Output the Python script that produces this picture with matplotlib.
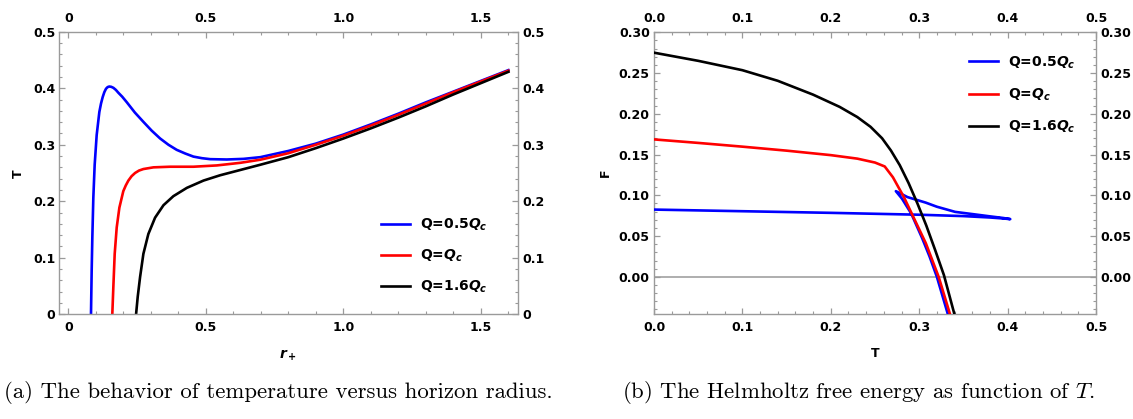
"""
Black hole thermodynamics: temperature vs horizon radius and Helmholtz free energy vs T.
"""

import matplotlib
matplotlib.use("Agg")
import matplotlib.pyplot as plt
from matplotlib.ticker import MultipleLocator

plt.rcParams["font.family"] = ["DejaVu Sans"]
plt.rcParams["font.weight"] = "bold"
plt.rcParams["mathtext.fontset"] = "custom"
plt.rcParams["mathtext.rm"] = "DejaVu Sans:bold"
plt.rcParams["mathtext.bf"] = "DejaVu Sans:bold"
plt.rcParams["mathtext.it"] = "DejaVu Sans:italic:bold"

# ---- panel (a): T vs r+ ----
r_blue = [0.0825, 0.085, 0.0874, 0.091, 0.0959, 0.1032, 0.1129, 0.119, 0.125, 0.131,
          0.137, 0.143, 0.149, 0.156, 0.164, 0.173, 0.182, 0.196, 0.212, 0.242,
          0.273, 0.303, 0.334, 0.364, 0.394, 0.425, 0.455, 0.486, 0.516, 0.576,
          0.637, 0.698, 0.8, 0.9, 1.0, 1.1, 1.2, 1.3, 1.4, 1.5, 1.6]
T_blue = [0.0, 0.0777, 0.136, 0.206, 0.2646, 0.3172, 0.358, 0.373, 0.3843, 0.393,
          0.399, 0.402, 0.403, 0.4025, 0.4007, 0.397, 0.392, 0.385, 0.3756, 0.357,
          0.3405, 0.325, 0.311, 0.300, 0.291, 0.2845, 0.279, 0.2762, 0.2745, 0.2739,
          0.275, 0.278, 0.289, 0.302, 0.318, 0.336, 0.355, 0.375, 0.394, 0.413, 0.432]

r_red = [0.160, 0.1638, 0.1687, 0.176, 0.1857, 0.2, 0.209, 0.2184, 0.230, 0.2427,
         0.257, 0.273, 0.3095, 0.37, 0.455, 0.54, 0.625, 0.698, 0.8, 0.9, 1.0, 1.1,
         1.2, 1.3, 1.4, 1.5, 1.6]
T_red = [0.0, 0.0485, 0.107, 0.1536, 0.1887, 0.2179, 0.228, 0.2366, 0.2443, 0.25,
         0.2543, 0.257, 0.26, 0.2611, 0.2611, 0.2634, 0.268, 0.2735, 0.285, 0.300,
         0.316, 0.334, 0.353, 0.373, 0.393, 0.412, 0.431]

r_black = [0.2464, 0.2524, 0.261, 0.273, 0.291, 0.3155, 0.346, 0.382, 0.431, 0.4915,
           0.552, 0.625, 0.698, 0.8, 0.9, 1.0, 1.1, 1.2, 1.3, 1.4, 1.5, 1.6]
T_black = [0.0, 0.031, 0.066, 0.107, 0.142, 0.171, 0.193, 0.209, 0.2237, 0.2366,
           0.246, 0.2553, 0.2646, 0.278, 0.294, 0.311, 0.329, 0.348, 0.368, 0.389,
           0.409, 0.429]

# ---- panel (b): F vs T ----
Tf_blue = [0.0, 0.1, 0.2, 0.3, 0.35, 0.38, 0.395, 0.403,
           0.395, 0.38, 0.36, 0.3406, 0.32, 0.3075, 0.2868, 0.2736,
           0.2806, 0.291, 0.3034, 0.3117, 0.32, 0.3324]
F_blue = [0.0825, 0.0805, 0.0785, 0.0762, 0.0745, 0.0728, 0.0716, 0.0708,
          0.0722, 0.0742, 0.0770, 0.0797, 0.0860, 0.091, 0.0978, 0.1051,
          0.0958, 0.0776, 0.0473, 0.025, 0.0, -0.0457]

Tf_red = [0.0, 0.05, 0.10, 0.15, 0.20, 0.23, 0.25, 0.261, 0.2703, 0.2827, 0.2951,
          0.3075, 0.322, 0.3348]
F_red = [0.1686, 0.1643, 0.1597, 0.1548, 0.1493, 0.1450, 0.1402, 0.1354, 0.1221,
         0.0978, 0.0695, 0.0412, 0.0, -0.0457]

Tf_black = [0.0, 0.05, 0.10, 0.14, 0.18, 0.21, 0.23, 0.245, 0.258, 0.268, 0.278,
            0.288, 0.298, 0.308, 0.318, 0.328, 0.3398]
F_black = [0.275, 0.265, 0.2535, 0.2405, 0.2235, 0.2085, 0.196, 0.184, 0.170, 0.155,
           0.137, 0.115, 0.090, 0.063, 0.033, 0.002, -0.0457]

labels = ["Q=0.5$Q_c$", "Q=$Q_c$", "Q=1.6$Q_c$"]
colors = ["#0000ff", "#ff0000", "#000000"]

FRAME = "#9a9a9a"


def style_axes(ax):
    for sp in ax.spines.values():
        sp.set_color(FRAME)
        sp.set_linewidth(1.0)
    ax.tick_params(which="both", direction="in", colors=FRAME, labelcolor="black",
                   top=True, right=True, labeltop=True, labelright=True,
                   labelsize=9)
    ax.tick_params(which="major", length=4, width=0.9)
    ax.tick_params(which="minor", length=2.5, width=0.8)
    ax.tick_params(axis="x", pad=5)
    ax.tick_params(axis="y", pad=3)


fig = plt.figure(figsize=(11.33, 4.19), dpi=100)

# left panel
ax1 = fig.add_axes([59.3 / 1133, 1 - 314.3 / 419, 459 / 1133, 282.6 / 419])
for x, y, c, lab in zip([r_blue, r_red, r_black], [T_blue, T_red, T_black], colors, labels):
    ax1.plot(x, y, color=c, lw=1.9, label=lab)
ax1.set_xlim(-0.0327, 1.636)
ax1.set_ylim(0, 0.5)
ax1.set_xticks([0, 0.5, 1.0, 1.5], ["0", "0.5", "1.0", "1.5"])
ax1.set_yticks([0, 0.1, 0.2, 0.3, 0.4, 0.5], ["0", "0.1", "0.2", "0.3", "0.4", "0.5"])
ax1.xaxis.set_minor_locator(MultipleLocator(0.1))
ax1.yaxis.set_minor_locator(MultipleLocator(0.02))
style_axes(ax1)
ax1.set_xlabel("$r_+$", fontsize=10, fontweight="bold")
ax1.xaxis.set_label_coords(0.498, -0.144)
ax1.xaxis.label.set_va("center")
ax1.set_ylabel("T", fontsize=9, fontweight="bold")
ax1.yaxis.set_label_coords(-0.0895, 0.498)
ax1.yaxis.label.set_va("center")
ax1.legend(loc="center left", bbox_to_anchor=(0.70, 0.207), frameon=False,
           borderpad=0, borderaxespad=0, handlelength=2.15, handletextpad=0.7,
           labelspacing=1.05, prop={"size": 10, "weight": "bold"})

# right panel
ax2 = fig.add_axes([654 / 1133, 1 - 314 / 419, 442 / 1133, 281.7 / 419])
ax2.axhline(0, color="#a8a8a8", lw=1.3, zorder=1)
for x, y, c, lab in zip([Tf_blue, Tf_red, Tf_black], [F_blue, F_red, F_black], colors, labels):
    ax2.plot(x, y, color=c, lw=1.9, label=lab, zorder=3)
ax2.set_xlim(0, 0.5)
ax2.set_ylim(-0.0456, 0.30)
ax2.set_xticks([0, 0.1, 0.2, 0.3, 0.4, 0.5], ["0.0", "0.1", "0.2", "0.3", "0.4", "0.5"])
ax2.set_yticks([0, 0.05, 0.10, 0.15, 0.20, 0.25, 0.30],
               ["0.00", "0.05", "0.10", "0.15", "0.20", "0.25", "0.30"])
ax2.xaxis.set_minor_locator(MultipleLocator(0.02))
ax2.yaxis.set_minor_locator(MultipleLocator(0.01))
style_axes(ax2)
ax2.set_xlabel("T", fontsize=9, fontweight="bold")
ax2.xaxis.set_label_coords(0.5, -0.14)
ax2.xaxis.label.set_va("center")
ax2.set_ylabel("F", fontsize=9, fontweight="bold")
ax2.yaxis.set_label_coords(-0.109, 0.5)
ax2.yaxis.label.set_va("center")
ax2.legend(loc="center left", bbox_to_anchor=(0.713, 0.778), frameon=False,
           borderpad=0, borderaxespad=0, handlelength=2.1, handletextpad=0.7,
           labelspacing=1.15, prop={"size": 10, "weight": "bold"})

# captions
fig.text(553 / 1133, 1 - 392 / 419, "(a) The behavior of temperature versus horizon radius.",
         family="cmr10", fontweight="normal", fontsize=16.4, ha="right", va="center")
fig.text(858 / 1133, 1 - 392 / 419, "(b) The Helmholtz free energy as function of $T$.",
         family="cmr10", fontweight="normal", fontsize=16.4, ha="center", va="center",
         math_fontfamily="cm")

fig.savefig("out.png", dpi=100)
